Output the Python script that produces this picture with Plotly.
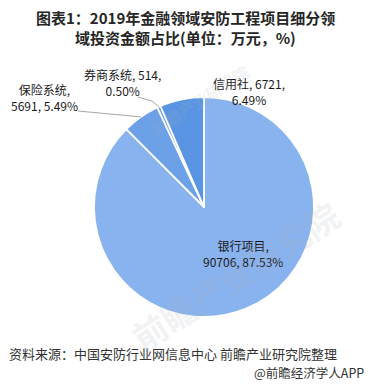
import math
import plotly.graph_objects as go

# Investment in security projects of the financial sector, 2019 (unit: 10k CNY)
categories = ["银行项目", "保险系统", "券商系统", "信用社"]
amounts = [90706, 5691, 514, 6721]
shares = [87.53, 5.49, 0.50, 6.49]
colors = ["#89B3EE", "#6CA1E8", "#6A9FE6", "#5A95E3"]

W, H = 370, 387
CX, CY, R = 204, 207, 110  # pie centre and radius in pixels

FONT = "Noto Sans CJK SC, Microsoft YaHei, sans-serif"


def px(x):
    return x / W


def py(y):
    return 1 - y / H


def edge_point(idx, radius=R):
    """Point on the pie rim at the middle of slice idx (clockwise from 12 o'clock)."""
    total = sum(amounts)
    start = sum(amounts[:idx]) / total
    mid = start + amounts[idx] / total / 2
    ang = mid * 2 * math.pi
    return CX + radius * math.sin(ang), CY - radius * math.cos(ang)


fig = go.Figure(
    go.Pie(
        labels=categories,
        values=amounts,
        sort=False,
        direction="clockwise",
        rotation=0,
        marker=dict(colors=colors, line=dict(color="white", width=1.8)),
        textinfo="none",
        hoverinfo="label+value+percent",
        showlegend=False,
        domain=dict(x=[px(CX - R), px(CX + R)], y=[py(CY + R), py(CY - R)]),
    )
)

label_text = [f"{c},<br>{a}, {s:.2f}%" for c, a, s in zip(categories, amounts, shares)]
label_text[2] = f"{categories[2]}, {amounts[2]},<br>{shares[2]:.2f}%"
label_text[3] = f"{categories[3]}, {amounts[3]},<br>{shares[3]:.2f}%"
label_pos = [(243, 253), (44, 98), (122, 83), (249, 91)]

annotations = []
for txt, (lx, ly) in zip(label_text, label_pos):
    annotations.append(dict(
        x=px(lx), y=py(ly), xref="paper", yref="paper", text=txt,
        showarrow=False, xanchor="center", yanchor="middle", align="center",
        font=dict(family=FONT, size=12, color="#1A1A1A"),
    ))

# Title, two lines set closely
title_lines = ["图表1：2019年金融领域安防工程项目细分领", "域投资金额占比(单位：万元，%)"]
for line, ly in zip(title_lines, [18, 37]):
    annotations.append(dict(
        x=0.5, y=py(ly), xref="paper", yref="paper",
        text=f"<b>{line}</b>", borderpad=0,
        showarrow=False, xanchor="center", yanchor="middle", align="center",
        font=dict(family=FONT, size=15, color="#262626"),
    ))

# Source and credit lines
annotations.append(dict(
    x=px(7), y=py(353), xref="paper", yref="paper",
    text="资料来源：中国安防行业网信息中心 前瞻产业研究院整理",
    showarrow=False, xanchor="left", yanchor="middle",
    font=dict(family=FONT, size=13, color="#333333"),
))
annotations.append(dict(
    x=px(366), y=py(372), xref="paper", yref="paper",
    text="@前瞻经济学人APP",
    showarrow=False, xanchor="right", yanchor="middle",
    font=dict(family=FONT, size=12.5, color="#333333"),
))

# Faint watermark
for wx, wy, size in [(200, 100, 16), (235, 275, 34)]:
    annotations.append(dict(
        x=px(wx), y=py(wy), xref="paper", yref="paper",
        text="<b>前瞻产业研究院</b>", textangle=-33,
        showarrow=False, xanchor="center", yanchor="middle",
        font=dict(family=FONT, size=size, color="rgba(170,175,185,0.18)"),
    ))

# Leader lines for the small slices on the left
shapes = []
ex, ey = edge_point(1)
shapes.append(dict(type="line", xref="paper", yref="paper",
                   x0=px(78), y0=py(111), x1=px(ex), y1=py(ey),
                   line=dict(color="#A6A6A6", width=1)))
ex, ey = edge_point(2)
shapes.append(dict(type="path", xref="paper", yref="paper",
                   path=f"M {px(138)},{py(97)} L {px(152)},{py(101)} L {px(ex)},{py(ey)}",
                   line=dict(color="#A6A6A6", width=1)))

fig.update_layout(
    width=W, height=H,
    margin=dict(l=0, r=0, t=0, b=0),
    paper_bgcolor="white",
    plot_bgcolor="white",
    annotations=annotations,
    shapes=shapes,
)

fig.write_html("out.html")
